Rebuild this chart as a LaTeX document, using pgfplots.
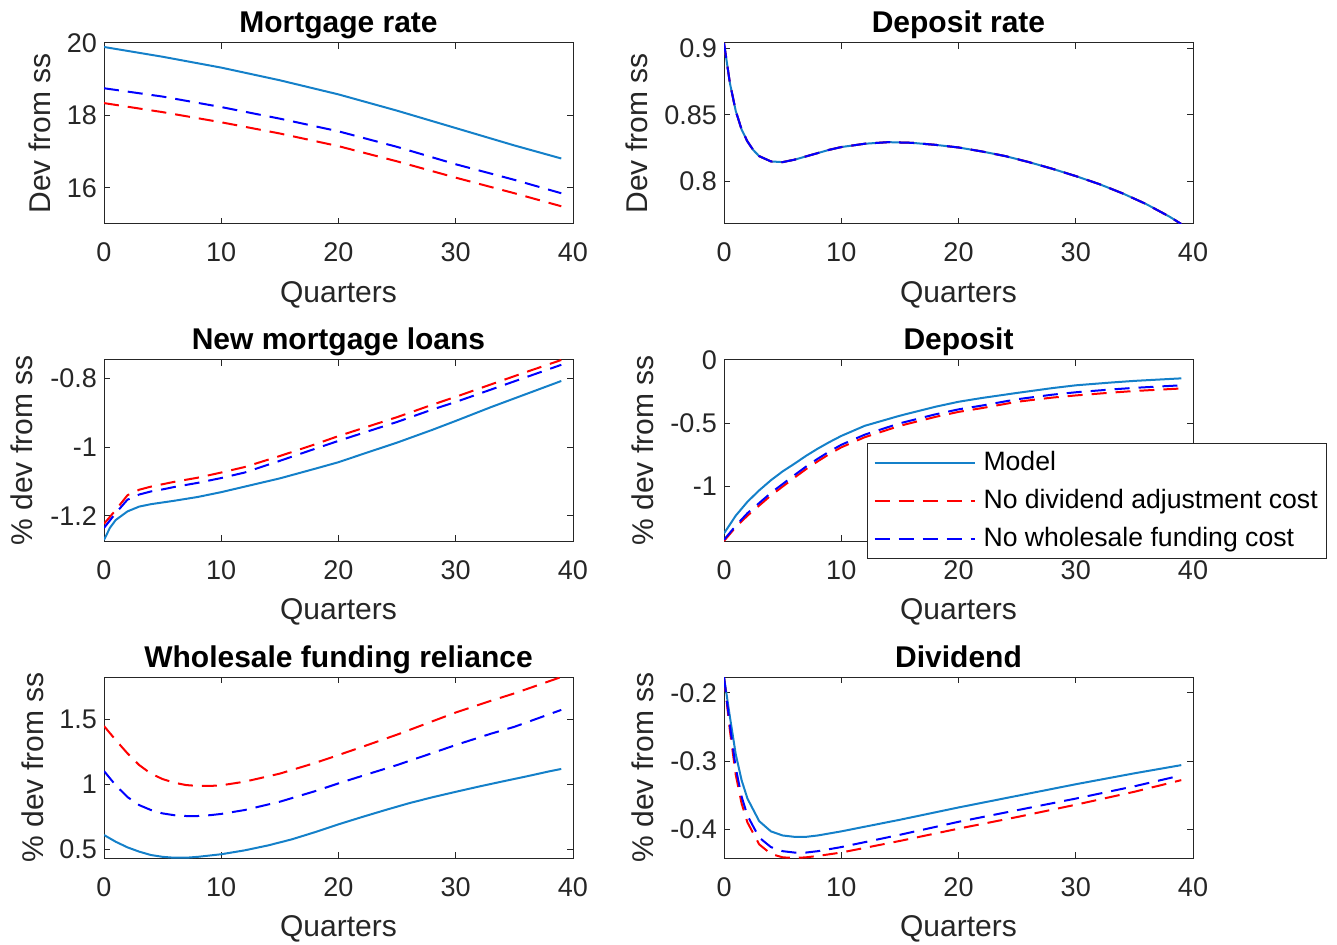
\documentclass[border=0pt]{standalone}
\usepackage{fontspec}
\setmainfont{Liberation Sans}
\usepackage{pgfplots}
\pgfplotsset{compat=1.18}

\definecolor{mblue}{rgb}{0.08,0.5,0.79}
\definecolor{axgray}{gray}{0.15}

\pgfplotsset{
  irf/.style={
    scale only axis, width=234.5pt, height=90.5pt,
    xmin=0, xmax=40, xtick={0,10,20,30,40},
    axis line style={axgray, line width=0.5pt},
    tick style={axgray, line width=0.5pt},
    tick align=inside, major tick length=3pt,
    tick label style={font=\fontsize{13.5}{16}\selectfont, text=axgray},
    /pgf/number format/assume math mode=true,
    label style={font=\fontsize{15}{18}\selectfont, text=axgray},
    title style={font=\fontsize{15}{18}\selectfont\bfseries, text=black,
      at={(axis description cs:0.5,1)}, anchor=base, yshift=-1pt},
    xlabel={Quarters},
    xlabel style={at={(axis description cs:0.5,0)}, anchor=base, yshift=-39pt},
    xticklabel style={anchor=base, yshift=-19pt},
    every axis plot/.append style={line width=1pt},
  },
  ylab/.style={ylabel style={at={(axis description cs:-#1,0.5)}, anchor=center}},
  model/.style={mblue, solid},
  nodiv/.style={red, dash pattern=on 7.5pt off 4.5pt},
  nowf/.style={blue, dash pattern=on 7.5pt off 4.5pt},
}

\begin{document}
\begin{tikzpicture}
\useasboundingbox (0,0) rectangle (668.5pt,472pt);

% Mortgage rate
\begin{axis}[irf, at={(52pt,360pt)}, anchor=south west,
  title={Mortgage rate}, ylabel={Dev from ss}, ylab=0.1365,
  ymin=15, ymax=20, ytick={16,18,20}]
\addplot[model] coordinates {(0,19.89) (5,19.62) (10,19.32) (15,18.97) (20,18.58) (25,18.13) (30,17.65) (35,17.17) (39,16.81)};
\addplot[nodiv] coordinates {(0,18.34) (5,18.09) (10,17.81) (15,17.50) (20,17.15) (25,16.73) (30,16.28) (35,15.85) (39,15.49)};
\addplot[nowf] coordinates {(0,18.75) (5,18.52) (10,18.23) (15,17.91) (20,17.56) (25,17.13) (30,16.65) (35,16.22) (39,15.85)};
\end{axis}

% Deposit rate
\begin{axis}[irf, at={(362pt,360pt)}, anchor=south west,
  title={Deposit rate}, ylabel={Dev from ss}, ylab=0.1855,
  ymin=0.768, ymax=0.904, ytick={0.8,0.85,0.9}]
\addplot[model] coordinates {(0,0.904) (0.5,0.874) (1,0.853) (1.5,0.839) (2,0.830) (2.5,0.8235) (3,0.819) (4,0.815) (5,0.8145) (6,0.8163) (7,0.8188) (8,0.8213) (9,0.8238) (10,0.8258) (12,0.8283) (14,0.8295) (16,0.829) (18,0.8275) (20,0.8255) (22,0.8225) (24,0.819) (26,0.8145) (28,0.8095) (30,0.804) (32,0.798) (34,0.791) (36,0.783) (38,0.7735) (39,0.768)};
\addplot[nodiv] coordinates {(0,0.904) (0.5,0.874) (1,0.853) (1.5,0.839) (2,0.830) (2.5,0.8235) (3,0.819) (4,0.815) (5,0.8145) (6,0.8163) (7,0.8188) (8,0.8213) (9,0.8238) (10,0.8258) (12,0.8283) (14,0.8295) (16,0.829) (18,0.8275) (20,0.8255) (22,0.8225) (24,0.819) (26,0.8145) (28,0.8095) (30,0.804) (32,0.798) (34,0.791) (36,0.783) (38,0.7735) (39,0.768)};
\addplot[nowf] coordinates {(0,0.904) (0.5,0.874) (1,0.853) (1.5,0.839) (2,0.830) (2.5,0.8235) (3,0.819) (4,0.815) (5,0.8145) (6,0.8163) (7,0.8188) (8,0.8213) (9,0.8238) (10,0.8258) (12,0.8283) (14,0.8295) (16,0.829) (18,0.8275) (20,0.8255) (22,0.8225) (24,0.819) (26,0.8145) (28,0.8095) (30,0.804) (32,0.798) (34,0.791) (36,0.783) (38,0.7735) (39,0.768)};
\end{axis}

% New mortgage loans
\begin{axis}[irf, at={(52pt,201.5pt)}, anchor=south west,
  title={New mortgage loans}, ylabel={\% dev from ss}, ylab=0.175,
  ymin=-1.273, ymax=-0.747, ytick={-1.2,-1,-0.8}]
\addplot[model] coordinates {(0,-1.27) (0.5,-1.235) (1,-1.212) (2,-1.187) (3,-1.173) (4,-1.166) (5,-1.161) (6,-1.156) (8,-1.145) (10,-1.131) (12,-1.115) (15,-1.091) (18,-1.063) (20,-1.044) (22,-1.021) (25,-0.987) (28,-0.950) (30,-0.924) (33,-0.884) (36,-0.846) (39,-0.808)};
\addplot[nodiv] coordinates {(0,-1.223) (1,-1.183) (2,-1.140) (3,-1.124) (4,-1.115) (5,-1.108) (6,-1.101) (8,-1.089) (10,-1.074) (12,-1.058) (15,-1.026) (18,-0.992) (20,-0.968) (22,-0.946) (25,-0.913) (28,-0.877) (30,-0.854) (33,-0.818) (36,-0.782) (39,-0.747)};
\addplot[nowf] coordinates {(0,-1.235) (1,-1.192) (2,-1.153) (3,-1.138) (4,-1.129) (5,-1.123) (6,-1.116) (8,-1.104) (10,-1.090) (12,-1.074) (15,-1.040) (18,-1.005) (20,-0.982) (22,-0.960) (25,-0.927) (28,-0.891) (30,-0.869) (33,-0.833) (36,-0.797) (39,-0.761)};
\end{axis}

% Deposit
\begin{axis}[irf, at={(362pt,201.5pt)}, anchor=south west,
  title={Deposit}, ylabel={\% dev from ss}, ylab=0.173,
  ymin=-1.43, ymax=0, ytick={-1,-0.5,0},
  legend cell align=left,
  legend image code/.code={\draw[#1] (0pt,0pt) -- (50pt,0pt);},
  legend style={at={(0.305,0.541)}, anchor=north west, draw=axgray, fill=white,
    line width=0.5pt, font=\fontsize{13.3}{16}\selectfont,
    inner xsep=3pt, inner ysep=1.25pt, row sep=2pt, column sep=2.5pt,
    nodes={inner xsep=1.5pt, inner ysep=2pt, text height=10pt, text depth=3pt}}]
\addplot[model] coordinates {(0,-1.37) (1,-1.23) (2,-1.12) (3,-1.03) (4,-0.95) (5,-0.88) (6,-0.82) (7,-0.757) (8,-0.70) (9,-0.648) (10,-0.60) (12,-0.52) (15,-0.44) (18,-0.37) (20,-0.33) (22,-0.30) (25,-0.26) (28,-0.222) (30,-0.20) (33,-0.178) (35,-0.165) (39,-0.145)};
\addplot[nodiv] coordinates {(0,-1.43) (1,-1.32) (2,-1.23) (3,-1.15) (4,-1.07) (5,-1.00) (6,-0.93) (7,-0.862) (8,-0.80) (9,-0.742) (10,-0.69) (12,-0.61) (15,-0.52) (18,-0.45) (20,-0.41) (22,-0.38) (25,-0.33) (28,-0.297) (30,-0.28) (33,-0.258) (35,-0.245) (39,-0.225)};
\addplot[nowf] coordinates {(0,-1.42) (1,-1.31) (2,-1.21) (3,-1.13) (4,-1.05) (5,-0.98) (6,-0.91) (7,-0.842) (8,-0.78) (9,-0.722) (10,-0.67) (12,-0.59) (15,-0.50) (18,-0.43) (20,-0.39) (22,-0.36) (25,-0.31) (28,-0.274) (30,-0.255) (33,-0.233) (35,-0.22) (39,-0.20)};
\legend{Model,No dividend adjustment cost,No wholesale funding cost}
\end{axis}

% Wholesale funding reliance
\begin{axis}[irf, at={(52pt,43pt)}, anchor=south west,
  title={Wholesale funding reliance}, ylabel={\% dev from ss}, ylab=0.151,
  ymin=0.431, ymax=1.823, ytick={0.5,1,1.5}]
\addplot[model] coordinates {(0,0.608) (1,0.556) (2,0.513) (3,0.480) (4,0.454) (5,0.440) (6,0.433) (7,0.433) (8,0.440) (10,0.460) (12,0.490) (14,0.528) (16,0.574) (18,0.630) (20,0.690) (22,0.746) (24,0.800) (26,0.852) (28,0.898) (30,0.940) (32,0.981) (34,1.020) (36,1.058) (38,1.098) (39,1.116)};
\addplot[nodiv] coordinates {(0,1.446) (1,1.338) (2,1.236) (3,1.146) (4,1.080) (5,1.038) (6,1.010) (7,0.992) (8,0.985) (9,0.985) (10,0.990) (12,1.018) (15,1.080) (18,1.162) (20,1.223) (22,1.285) (25,1.380) (28,1.482) (30,1.550) (33,1.640) (35,1.697) (39,1.823)};
\addplot[nowf] coordinates {(0,1.100) (1,0.990) (2,0.900) (3,0.838) (4,0.800) (5,0.774) (6,0.760) (7,0.754) (8,0.754) (9,0.760) (10,0.770) (12,0.800) (15,0.864) (18,0.945) (20,1.005) (22,1.062) (25,1.146) (28,1.238) (30,1.300) (33,1.387) (35,1.440) (39,1.570)};
\end{axis}

% Dividend
\begin{axis}[irf, at={(362pt,43pt)}, anchor=south west,
  title={Dividend}, ylabel={\% dev from ss}, ylab=0.173,
  ymin=-0.442, ymax=-0.177, ytick={-0.4,-0.3,-0.2}]
\addplot[model] coordinates {(0,-0.177) (0.5,-0.235) (1,-0.290) (1.5,-0.328) (2,-0.355) (3,-0.388) (4,-0.403) (5,-0.409) (6,-0.411) (7,-0.411) (8,-0.409) (10,-0.403) (15,-0.386) (20,-0.368) (25,-0.351) (30,-0.334) (35,-0.318) (39,-0.306)};
\addplot[nodiv] coordinates {(0,-0.177) (0.5,-0.255) (1,-0.320) (1.5,-0.362) (2,-0.390) (3,-0.422) (4,-0.436) (5,-0.441) (6,-0.442) (7,-0.441) (8,-0.439) (10,-0.434) (15,-0.417) (20,-0.399) (25,-0.382) (30,-0.364) (35,-0.345) (39,-0.328)};
\addplot[nowf] coordinates {(0,-0.177) (0.5,-0.248) (1,-0.310) (1.5,-0.352) (2,-0.380) (3,-0.412) (4,-0.426) (5,-0.432) (6,-0.434) (7,-0.434) (8,-0.432) (10,-0.426) (15,-0.408) (20,-0.389) (25,-0.372) (30,-0.355) (35,-0.337) (39,-0.321)};
\end{axis}
\end{tikzpicture}
\end{document}
